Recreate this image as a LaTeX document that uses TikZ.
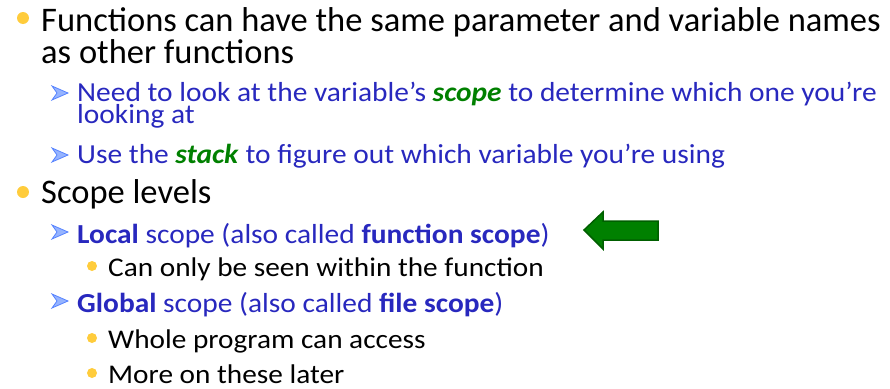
\documentclass[tikz,border=0pt]{standalone}
\usepackage{graphicx}
\usepackage{fontspec}
\setmainfont{Carlito}
\definecolor{txtblue}{RGB}{40,40,190}
\definecolor{kwgreen}{RGB}{0,128,0}
\definecolor{dotyellow}{RGB}{255,204,60}
\definecolor{arrfill}{RGB}{150,180,255}
\definecolor{arrline}{RGB}{85,130,255}
\definecolor{bigarrow}{RGB}{0,128,0}
\definecolor{bigarrowline}{RGB}{0,95,0}
\newcommand{\kw}[1]{\textcolor{kwgreen}{\textbf{\textit{#1}}}}
\newcommand{\wtwo}[1]{\scalebox{1.07}[1]{#1}}
\newcommand{\wthree}[1]{\scalebox{1.085}[1]{#1}}
\begin{document}
\begin{tikzpicture}[x=1pt,y=-1pt,
  lvlone/.style={anchor=base west,inner sep=0pt,font=\fontsize{34.5}{40}\selectfont,text=black},
  lvltwo/.style={anchor=base west,inner sep=0pt,font=\fontsize{27.5}{22}\selectfont,text=txtblue},
  lvlthree/.style={anchor=base west,inner sep=0pt,font=\fontsize{27}{32}\selectfont,text=black},
  dotbig/.style={fill=dotyellow,draw=none},
  ]
\useasboundingbox (0,0) rectangle (890,388);
% level 1 bullets
\fill[dotbig] (23,18) circle (6);
\fill[dotbig] (23,192) circle (6);
% level 3 bullets
\fill[dotbig] (92,266) circle (5);
\fill[dotbig] (92,338) circle (5);
\fill[dotbig] (92,373) circle (5);
% arrow bullets
\foreach \yy in {93,155,232,301}{
  \filldraw[fill=arrfill,draw=arrline,line width=0.8pt,line join=miter]
    (52,\yy-7) -- (68,\yy) -- (52,\yy+7) -- (57,\yy) -- cycle;
}
% texts
\node[lvlone] (t1) at (41,31) {Functions can have the same parameter and variable names};
\node[lvlone] (t2) at (41,63) {as other functions};
\node[lvltwo,align=left] (t3) at (77,123) {\wtwo{Need to look at the variable’s \kw{scope} to determine which one you’re}\\[-3pt]\wtwo{looking at}};
\node[lvltwo] (t5) at (77,163) {\wtwo{Use the \kw{stack} to figure out which variable you’re using}};
\node[lvlone] (t6) at (41,203) {Scope levels};
\node[lvltwo] (t7) at (77,243) {\wtwo{\textbf{Local} scope (also called \textbf{function scope})}};
\node[lvlthree] (t8) at (108,276) {\wthree{Can only be seen within the function}};
\node[lvltwo] (t9) at (77,312) {\wtwo{\textbf{Global} scope (also called \textbf{file scope})}};
\node[lvlthree] (t10) at (108,348) {\wthree{Whole program can access}};
\node[lvlthree] (t11) at (108,383) {\wthree{More on these later}};
% big green arrow
\filldraw[fill=bigarrow,draw=bigarrowline,line width=1.5pt,line join=miter]
  (584,230) -- (603,212) -- (603,221) -- (658,221) -- (658,240) -- (603,240) -- (603,249) -- cycle;
\end{tikzpicture}
\end{document}
